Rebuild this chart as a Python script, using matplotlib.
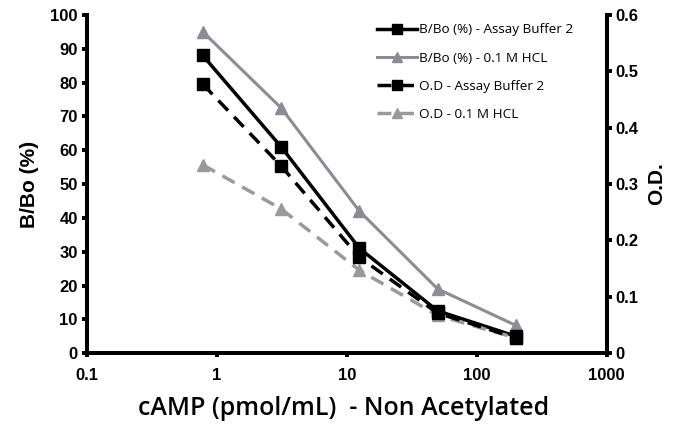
import matplotlib
matplotlib.use("Agg")
import matplotlib.pyplot as plt
from matplotlib.ticker import FixedLocator, FixedFormatter, NullLocator

conc = [0.78, 3.125, 12.5, 50, 200]
bbo_buffer = [88, 61, 31, 12.5, 5]
bbo_hcl = [95, 72.5, 42, 19, 8.2]
od_buffer = [0.477, 0.332, 0.170, 0.071, 0.027]
od_hcl = [0.334, 0.256, 0.147, 0.067, 0.027]

x_ticks = [0.1, 1, 10, 100, 1000]
x_ticklabels = ["0.1", "1", "10", "100", "1000"]
y_ticks = list(range(0, 101, 10))
y2_ticks = [0, 0.1, 0.2, 0.3, 0.4, 0.5, 0.6]
y2_ticklabels = ["0", "0.1", "0.2", "0.3", "0.4", "0.5", "0.6"]

labels = ["B/Bo (%) - Assay Buffer 2", "B/Bo (%) - 0.1 M HCL",
          "O.D - Assay Buffer 2", "O.D - 0.1 M HCL"]

BLACK = "#000000"
GRAY1 = "#8d8b95"
GRAY2 = "#9a9a9a"

fig = plt.figure(figsize=(6.84, 4.26), dpi=100)
ax = fig.add_axes([0.127, 0.171, 0.760, 0.794])
ax2 = ax.twinx()

h1, = ax.plot(conc, bbo_buffer, color=BLACK, lw=2.5, marker="s", ms=9, zorder=4)
h2, = ax.plot(conc, bbo_hcl, color=GRAY1, lw=2.2, marker="^", ms=9, zorder=3)
h3, = ax2.plot(conc, od_buffer, color=BLACK, lw=2.5, ls=(0, (4, 2.5)), marker="s", ms=9, zorder=4)
h4, = ax2.plot(conc, od_hcl, color=GRAY2, lw=2.5, ls=(0, (4, 2.5)), marker="^", ms=9, zorder=3)

ax.set_xscale("log")
ax.set_xlim(0.1, 1000)
ax.set_ylim(0, 100)
ax2.set_ylim(0, 0.6)

ax.xaxis.set_major_locator(FixedLocator(x_ticks))
ax.xaxis.set_major_formatter(FixedFormatter(x_ticklabels))
ax.xaxis.set_minor_locator(NullLocator())
ax.set_yticks(y_ticks)
ax2.set_yticks(y2_ticks)
ax2.set_yticklabels(y2_ticklabels)

for lab in ax.get_xticklabels() + ax.get_yticklabels() + ax2.get_yticklabels():
    lab.set_fontfamily("Liberation Sans")
    lab.set_fontweight("bold")
    lab.set_fontsize(12)

for a in (ax, ax2):
    for s in a.spines.values():
        s.set_linewidth(2.8)
    a.spines["top"].set_visible(False)
ax.tick_params(axis="y", which="major", direction="out", length=3.5, width=2.8, pad=3)
ax.tick_params(axis="x", which="major", direction="out", length=3, width=2.8, pad=7.5)
ax2.tick_params(axis="y", direction="out", length=3.5, width=2.8, pad=3)

ax.set_ylabel("B/Bo (%)", fontfamily="Liberation Sans", fontweight="bold", fontsize=15, labelpad=8)
ax2.set_ylabel("O.D.", fontfamily="Liberation Sans", fontweight="bold", fontsize=15, labelpad=6)
fig.text(344 / 684, 1 - 415 / 426, "cAMP (pmol/mL)  - Non Acetylated", ha="center", va="baseline",
         fontfamily="Open Sans", fontweight="semibold", fontsize=18)

leg = fig.legend([h1, h2, h3, h4], labels, loc="upper left",
                 bbox_to_anchor=(377 / 684, 1 - 23.5 / 426),
                 frameon=False, prop=dict(family="Open Sans", size=9.7), handlelength=3.0,
                 labelspacing=1.12, handletextpad=0.15, borderpad=0, borderaxespad=0,
                 markerscale=0.8)

fig.savefig("out.png", dpi=100)
